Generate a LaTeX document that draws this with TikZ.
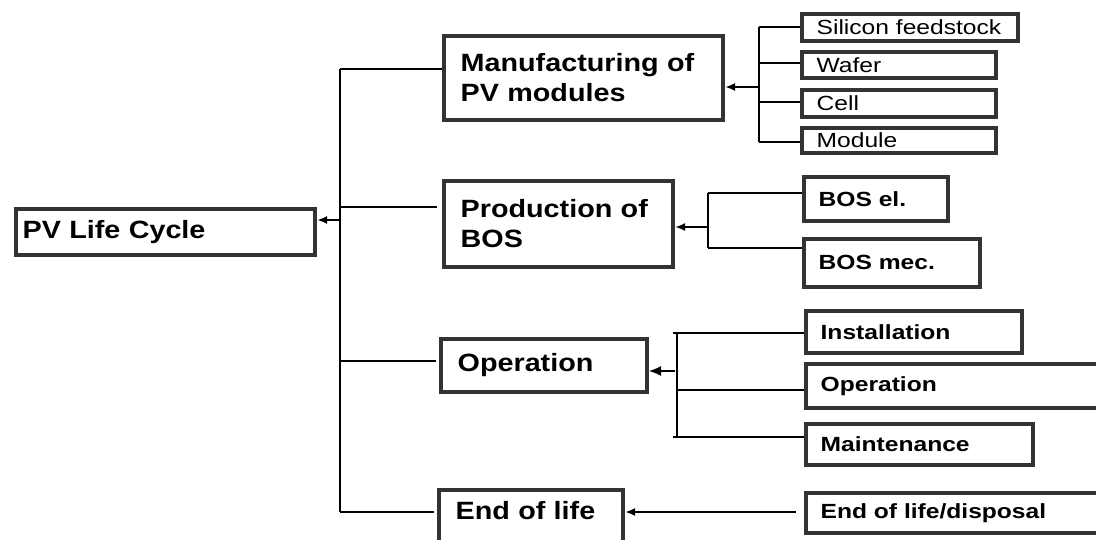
\documentclass[tikz,border=0pt]{standalone}
\usepackage{fontspec}
\setmainfont{Liberation Sans}
\newfontfamily\mainf{Liberation Sans}[FakeStretch=1.15]
\newfontfamily\subf{Liberation Sans}[FakeStretch=1.2]
\usetikzlibrary{arrows.meta,calc}
\definecolor{bord}{HTML}{333333}
\begin{document}
\begin{tikzpicture}[x=1pt,y=-1pt,
  boxbase/.style={draw=bord, line width=3.8pt, rectangle, align=left, anchor=north west, inner ysep=2pt},
  mbox/.style={boxbase, inner xsep=17pt, font=\mainf\bfseries\fontsize{25}{30}\selectfont},
  sbox/.style={boxbase, inner xsep=15pt, font=\subf\fontsize{20.5}{24}\selectfont},
  sbbox/.style={sbox, font=\subf\bfseries\fontsize{20.5}{24}\selectfont},
  conn/.style={line width=2pt, black},
  arr/.style={line width=2pt, black, -{Latex[length=10pt,width=8pt]}}]
\useasboundingbox (0,0) rectangle (1096,539);
\clip (0,0) rectangle (1096,539);
\fill[white] (0,0) rectangle (1096,539);

% main boxes
\node[mbox, inner xsep=7pt, text width=285.5pt, minimum height=46.5pt] (life) at (13.75,206.75) {PV Life Cycle};
\node[mbox, text width=245.5pt, minimum height=84.5pt] (manu) at (441.75,33.75) {Manufacturing of\\PV modules};
\node[mbox, text width=195.5pt, minimum height=86.5pt] (bos) at (441.75,178.75) {Production of\\BOS};
\node[mbox, text width=172.5pt, minimum height=53.5pt] (oper) at (438.75,336.75) {Operation};
\node[mbox, text width=150.5pt, inner ysep=11.5pt, text height=18pt, text depth=40pt] (eol) at (436.75,487.75) {End of life};

% sub boxes
\node[sbox, text width=186.5pt, minimum height=27.5pt] (sil) at (799.75,11.75) {Silicon feedstock};
\node[sbox, text width=164.5pt, minimum height=26.5pt] (waf) at (799.75,49.75) {Wafer};
\node[sbox, text width=164.5pt, minimum height=27.5pt] (cell) at (799.75,87.75) {Cell};
\node[sbox, text width=164.5pt, minimum height=25.5pt] (mod) at (799.75,125.75) {Module};
\node[sbbox, text width=114.5pt, minimum height=44.5pt] (bosel) at (801.75,174.75) {BOS el.};
\node[sbbox, text width=146.5pt, minimum height=48.5pt] (bosmec) at (801.75,236.75) {BOS mec.};
\node[sbbox, text width=186.5pt, minimum height=42.5pt] (inst) at (803.75,308.75) {Installation};
\node[sbbox, text width=290pt, minimum height=44.5pt] (opsub) at (803.75,361.75) {Operation};
\node[sbbox, text width=197.5pt, minimum height=41.5pt] (maint) at (803.75,421.75) {Maintenance};
\node[sbbox, text width=290pt, minimum height=40.5pt] (disp) at (803.75,490.75) {End of life/disposal};

% main bus
\coordinate (j1) at (340,69);
\coordinate (j0) at (340,220);
\coordinate (j2) at (340,207);
\coordinate (j3) at (340,361);
\coordinate (j4) at (340,512);
\draw[conn] (j1) -- (j4);
\draw[conn] (j1) -- (j1 -| manu.west);
\draw[conn] (j2) -- ([xshift=-5pt]j2 -| bos.west);
\draw[conn] (j3) -- ([xshift=-3pt]j3 -| oper.west);
\draw[conn] (j4) -- ([xshift=-3pt]j4 -| eol.west);
\draw[arr] (j0) -- (j0 -| life.east);

% manufacturing sub-bus
\coordinate (m1) at (759,27);
\coordinate (m2) at (759,63);
\coordinate (m3) at (759,102);
\coordinate (m4) at (759,142);
\coordinate (m0) at (759,87);
\draw[conn] (m1) -- (m4);
\draw[conn] (m1) -- (m1 -| sil.west);
\draw[conn] (m2) -- (m2 -| waf.west);
\draw[conn] (m3) -- (m3 -| cell.west);
\draw[conn] (m4) -- (m4 -| mod.west);
\draw[arr] (m0) -- (m0 -| manu.east);

% BOS sub-bus
\coordinate (p1) at (708,193);
\coordinate (p2) at (708,248);
\coordinate (p0) at (708,227);
\draw[conn] (p1) -- (p2);
\draw[conn] (p1) -- (p1 -| bosel.west);
\draw[conn] (p2) -- (p2 -| bosmec.west);
\draw[arr] (p0) -- (p0 -| bos.east);

% operation sub-bus
\coordinate (o1) at (677,333);
\coordinate (o2) at (677,390);
\coordinate (o3) at (677,437);
\coordinate (o0) at (675,371);
\draw[conn] (o1) -- (o3);
\draw[conn] ([xshift=-4pt]o1) -- (o1 -| inst.west);
\draw[conn] (o2) -- (o2 -| opsub.west);
\draw[conn] ([xshift=-4pt]o3) -- (o3 -| maint.west);
\draw[line width=1.2pt, -{Latex[length=12pt,width=10pt]}] (o0) -- (o0 -| oper.east);

% end of life arrow
\coordinate (d0) at (796,512);
\draw[arr] (d0) -- (d0 -| eol.east);
\end{tikzpicture}
\end{document}
